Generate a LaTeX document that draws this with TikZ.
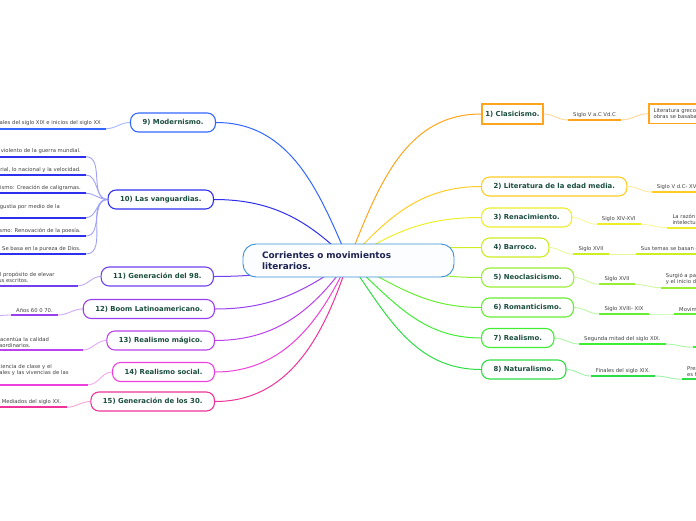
\documentclass[tikz,border=0pt]{standalone}
\usepackage{fontspec}
\setmainfont{DejaVu Sans}
\usetikzlibrary{backgrounds}

\definecolor{rootline}{HTML}{3B8FD6}
\definecolor{rootfill}{HTML}{FBFDFF}
\definecolor{roottext}{HTML}{1F2352}
\definecolor{topictext}{HTML}{1B4D3E}
\definecolor{leaftext}{HTML}{404040}
\definecolor{cA}{HTML}{FFA41C}
\definecolor{cB}{HTML}{FFCC26}
\definecolor{cC}{HTML}{EEEE28}
\definecolor{cD}{HTML}{CCEE22}
\definecolor{cE}{HTML}{99EE33}
\definecolor{cF}{HTML}{66EE33}
\definecolor{cG}{HTML}{40EE33}
\definecolor{cH}{HTML}{2EDD44}
\definecolor{cI}{HTML}{3366FF}
\definecolor{cJ}{HTML}{2F2FEE}
\definecolor{cK}{HTML}{7040EE}
\definecolor{cL}{HTML}{9940EE}
\definecolor{cM}{HTML}{BB40EE}
\definecolor{cN}{HTML}{EE40DD}
\definecolor{cO}{HTML}{EE3399}

\begin{document}
\begin{tikzpicture}[x=1pt,y=1pt,
    root/.style={draw=rootline, fill=rootfill, line width=0.9pt, rounded corners=13pt,
      text width=173pt, align=left, inner xsep=19pt, inner ysep=4pt, minimum height=33pt,
      text=roottext, font=\fontsize{8.9}{11}\selectfont\bfseries},
    topic/.style={draw=#1, fill=white, line width=1.1pt, rounded corners=8pt,
      minimum height=19pt, inner xsep=12pt, inner ysep=2pt,
      text=topictext, font=\fontsize{6.9}{8}\selectfont\bfseries},
    sqtopic/.style={topic=#1, sharp corners, line width=1.7pt, inner xsep=3.5pt, minimum height=20pt},
    sqleaf/.style={draw=#1, fill=white, line width=1.7pt, inner xsep=4.7pt, inner ysep=2pt,
      minimum height=19.3pt, align=left, text=leaftext, font=\fontsize{5.3}{6}\selectfont},
    leaf/.style={inner xsep=5pt, inner ysep=2.5pt, align=left, text=leaftext,
      font=\fontsize{5.3}{6}\selectfont,
      append after command={(\tikzlastnode.south west) edge[draw=#1, line width=2pt] (\tikzlastnode.south east)}},
    link/.style={draw=#1, line width=1pt},
    twig/.style={draw=#1!45, line width=0.9pt}]
  \useasboundingbox (0,0) rectangle (696,-520);
  \clip (0,0) rectangle (696,-520);

  % centre
  \node[root] (root) at (348.5,-260.5) {Corrientes o movimientos\\literarios.};

  % right side
  \node[sqtopic=cA, anchor=west] (t1) at (481,-114) {1) Clasicismo.};
  \node[topic=cB, anchor=west] (t2) at (481,-186.5) {2) Literatura de la edad media.};
  \node[topic=cC, anchor=west] (t3) at (481,-217.5) {3) Renacimiento.};
  \node[topic=cD, anchor=west] (t4) at (481,-247.5) {4) Barroco.};
  \node[topic=cE, anchor=west] (t5) at (481,-277.5) {5) Neoclasicismo.};
  \node[topic=cF, anchor=west] (t6) at (481,-307.5) {6) Romanticismo.};
  \node[topic=cG, anchor=west] (t7) at (481,-338) {7) Realismo.};
  \node[topic=cH, anchor=west] (t8) at (481,-369.5) {8) Naturalismo.};

  % left side
  \node[topic=cI, anchor=east] (t9) at (216,-122.5) {9) Modernismo.};
  \node[topic=cJ, anchor=east] (t10) at (214,-199.5) {10) Las vanguardias.};
  \node[topic=cK, anchor=east] (t11) at (214,-276.5) {11) Generación del 98.};
  \node[topic=cL, anchor=east] (t12) at (215,-309) {12) Boom Latinoamericano.};
  \node[topic=cM, anchor=east] (t13) at (215,-340.5) {13) Realismo mágico.};
  \node[topic=cN, anchor=east] (t14) at (215,-372) {14) Realismo social.};
  \node[topic=cO, anchor=east] (t15) at (215,-401.5) {15) Generación de los 30.};

  % leaves right
  \node[leaf=cA, anchor=south west] (l1a) at (568,-120) {Siglo V a.C Vd.C};
  \node[sqleaf=cA, anchor=west] (l1b) at (648,-113.7) {Literatura grecolatina, sus\\obras se basaban en la razón.};
  \node[leaf=cB, anchor=south west] (l2a) at (651.7,-192) {Siglo V d.C- XV};
  \node[leaf=cC, anchor=south west] (l3a) at (596.7,-224.3) {Siglo XIV-XVI};
  \node[leaf=cC, anchor=south west] (l3b) at (667.3,-227.7) {La razón como base del\\intelectualismo.};
  \node[leaf=cD, anchor=south west] (l4a) at (573.3,-254.3) {Siglo XVII};
  \node[leaf=cD, anchor=south west] (l4b) at (635.7,-254.3) {Sus temas se basan en la religión.};
  \node[leaf=cE, anchor=south west] (l5a) at (599.3,-284.3) {Siglo XVII};
  \node[leaf=cE, anchor=south west] (l5b) at (660.7,-287.7) {Surgió a partir de la Ilustración\\y el inicio de la razón.};
  \node[leaf=cF, anchor=south west] (l6a) at (599.3,-314) {Siglo XVIII- XIX};
  \node[leaf=cF, anchor=south west] (l6b) at (674,-314) {Movimiento cultural.};
  \node[leaf=cG, anchor=south west] (l7a) at (579,-344) {Segunda mitad del siglo XIX.};
  \node[leaf=cG, anchor=south west, minimum width=20pt] (l7b) at (692.7,-347.3) {};
  \node[leaf=cH, anchor=south west] (l8a) at (590.7,-376) {Finales del siglo XIX.};
  \node[leaf=cH, anchor=south west] (l8b) at (682,-379.3) {Presenta la realidad tal como\\es fielmente.};

  % leaves left
  \node[leaf=cI, anchor=south east] (l9a) at (106,-128.7) {Finales del siglo XIX e inicios del siglo XX};
  \node[leaf=cJ, anchor=south east] (l10a) at (86,-156.7) {Dadaísmo: Surge del rechazo violento de la guerra mundial.};
  \node[leaf=cJ, anchor=south east] (l10b) at (86,-175) {Futurismo: Exalta lo industrial, lo nacional y la velocidad.};
  \node[leaf=cJ, anchor=south east] (l10c) at (86,-193.3) {Cubismo: Creación de caligramas.};
  \node[leaf=cJ, anchor=south east, text width=157pt] (l10d) at (86,-217.7) {Expresionismo: Refleja la angustia por medio de la\\deformación.};
  \node[leaf=cJ, anchor=south east] (l10e) at (86,-236) {Ultraísmo: Renovación de la poesía.};
  \node[leaf=cJ, anchor=south east] (l10f) at (86,-254) {Creacionismo: Se basa en la pureza de Dios.};
  \node[leaf=cK, anchor=south east, text width=105pt] (l11a) at (78.3,-285.7) {Surge con el propósito de elevar\\el arte de sus escritos.};
  \node[leaf=cL, anchor=south east] (l12a) at (58,-315) {Años 60 0 70.};
  \coordinate (l12x) at (-30,-319);
  \node[leaf=cM, anchor=south east, text width=118pt] (l13a) at (82.7,-350) {donde el autor acentúa la calidad\\de hechos extraordinarios.};
  \node[leaf=cN, anchor=south east, text width=133pt] (l14a) at (88.3,-384.7) {Representa la conciencia de clase y el\\los problemas sociales y las vivencias de las\\personas.};
  \node[leaf=cO, anchor=south east] (l15a) at (66.7,-407.3) {Mediados del siglo XX.};

  \begin{scope}[on background layer]
    % main links
    \draw[link=cA] (root.center) to[out=68,in=180] (t1.west);
    \draw[link=cB] (root.center) to[out=48,in=180] (t2.west);
    \draw[link=cC] (root.center) to[out=33,in=180] (t3.west);
    \draw[link=cD] (root.center) to[out=15,in=180] (t4.west);
    \draw[link=cE] (root.center) to[out=-8,in=180] (t5.west);
    \draw[link=cF] (root.center) to[out=-28,in=180] (t6.west);
    \draw[link=cG] (root.center) to[out=-42,in=180] (t7.west);
    \draw[link=cH] (root.center) to[out=-55,in=180] (t8.west);
    \draw[link=cI] (root.center) to[out=113,in=0] (t9.east);
    \draw[link=cJ] (root.center) to[out=135,in=0] (t10.east);
    \draw[link=cK] (root.center) to[out=190,in=0] (t11.east);
    \draw[link=cL] (root.center) to[out=215,in=0] (t12.east);
    \draw[link=cM] (root.center) to[out=235,in=0] (t13.east);
    \draw[link=cN] (root.center) to[out=245,in=0] (t14.east);
    \draw[link=cO] (root.center) to[out=252,in=0] (t15.east);
    % twigs right
    \draw[twig=cA] (t1.east) to[out=0,in=180] (l1a.south west);
    \draw[twig=cA] (l1a.south east) to[out=0,in=180] (l1b.west);
    \draw[twig=cB] (t2.east) to[out=0,in=180] (l2a.south west);
    \draw[twig=cC] (t3.east) to[out=0,in=180] (l3a.south west);
    \draw[twig=cC] (l3a.south east) to[out=0,in=180] (l3b.south west);
    \draw[twig=cD] (t4.east) to[out=0,in=180] (l4a.south west);
    \draw[twig=cD] (l4a.south east) to[out=0,in=180] (l4b.south west);
    \draw[twig=cE] (t5.east) to[out=0,in=180] (l5a.south west);
    \draw[twig=cE] (l5a.south east) to[out=0,in=180] (l5b.south west);
    \draw[twig=cF] (t6.east) to[out=0,in=180] (l6a.south west);
    \draw[twig=cF] (l6a.south east) to[out=0,in=180] (l6b.south west);
    \draw[twig=cG] (t7.east) to[out=0,in=180] (l7a.south west);
    \draw[twig=cG] (l7a.south east) to[out=0,in=180] (l7b.south west);
    \draw[twig=cH] (t8.east) to[out=0,in=180] (l8a.south west);
    \draw[twig=cH] (l8a.south east) to[out=0,in=180] (l8b.south west);
    % twigs left
    \draw[twig=cI] (t9.west) to[out=180,in=0] (l9a.south east);
    \foreach \k in {a,b,c,d,e,f}
      \draw[twig=cJ] (t10.west) to[out=180,in=0] (l10\k.south east);
    \draw[twig=cK] (t11.west) to[out=180,in=0] (l11a.south east);
    \draw[twig=cL] (t12.west) to[out=180,in=0] (l12a.south east);
    \draw[twig=cL] (l12a.south west) to[out=180,in=0] (l12x);
    \draw[twig=cM] (t13.west) to[out=180,in=0] (l13a.south east);
    \draw[twig=cN] (t14.west) to[out=180,in=0] (l14a.south east);
    \draw[twig=cO] (t15.west) to[out=180,in=0] (l15a.south east);
  \end{scope}
\end{tikzpicture}
\end{document}
